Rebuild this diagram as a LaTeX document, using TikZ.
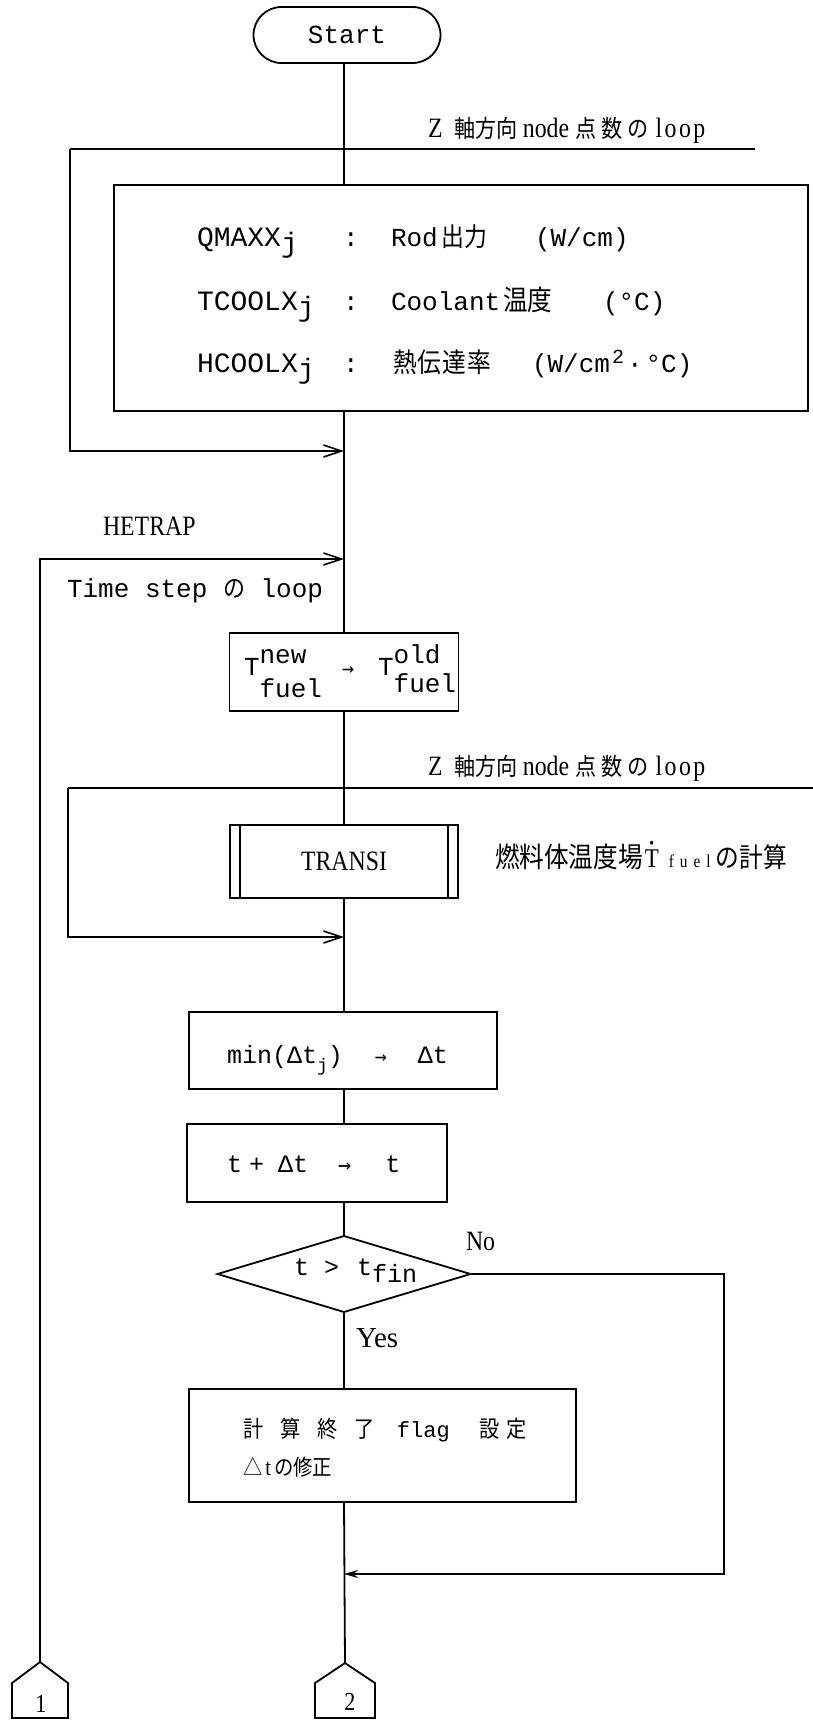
\documentclass[tikz,border=0pt]{standalone}
\usepackage{fontspec}
\setmainfont{Liberation Serif}
\newfontfamily\mono{Liberation Mono}
\newfontfamily\arr{DejaVu Sans Mono}
\newfontfamily\nserif[FakeStretch=0.85]{Liberation Serif}
\newfontfamily\cjk[FakeStretch=0.88]{Noto Sans CJK JP}
\usetikzlibrary{arrows.meta,shapes.geometric}
\newcommand{\fs}[1]{\fontsize{#1}{#1}\selectfont}
\newcommand{\zlabel}{\nserif\fs{28}Z\hspace{12pt}{\cjk\fs{24}軸方向}\hspace{5pt}node\hspace{6pt}{\cjk\fs{24}点\hspace{5pt}数\hspace{5pt}の}\hspace{7pt}l\hspace{2.5pt}o\hspace{2.5pt}o\hspace{2.5pt}p}
\begin{document}
\begin{tikzpicture}[x=1pt,y=-1pt,
  ln/.style={line width=1.8pt},
  boxst/.style={draw,line width=1.8pt,inner sep=0pt,outer sep=0pt},
  tx/.style={inner sep=0pt,outer sep=0pt,anchor=base west},
  barb/.style={-{Straight Barb[length=18pt,width=12pt,line width=1.6pt]}},
  fillarrow/.style={-{Stealth[length=14pt,width=8pt]}}]
\fill[white] (0,0) rectangle (813,1720);
\useasboundingbox (0,0) rectangle (813,1720);
\coordinate (m) at (344,0);
\coordinate (nr) at (724,0);

% start
\node[boxst, rounded corners=28pt, minimum width=187pt, minimum height=56pt] (start) at (347,35) {\mono\fs{26}Start};

% first loop
\node[tx] (zl1) at (428,138) {\zlabel};
\coordinate (l1a) at (70,149);
\coordinate (l1b) at (755,149);
\node[boxst, minimum width=694pt, minimum height=226pt] (inp) at (461,298) {};
\node[tx] (q1) at (197,247) {\mono\fs{28}QMAXX\raisebox{-6pt}{j}};
\node[anchor=base,inner sep=0pt] (c1c) at (351,247) {\mono\fs{26}:};
\node[tx] (q2) at (391,247) {\mono\fs{26}Rod\hspace{4pt}{\cjk\fs{26}出力}};
\node[tx] (q3) at (535,247) {\mono\fs{26}(W/cm)};
\node[tx] (t1) at (197,310) {\mono\fs{28}TCOOLX\raisebox{-6pt}{j}};
\node[anchor=base,inner sep=0pt] (c2c) at (351,310) {\mono\fs{26}:};
\node[tx] (t2) at (391,310) {\mono\fs{26}Coolant\hspace{3pt}{\cjk\fs{28}温度}};
\node[tx] (t3) at (603,310) {\mono\fs{26}(°C)};
\node[tx] (h1t) at (197,372) {\mono\fs{28}HCOOLX\raisebox{-6pt}{j}};
\node[anchor=base,inner sep=0pt] (c3c) at (351,372) {\mono\fs{26}:};
\node[tx] (h2t) at (393,372) {\cjk\fs{27}熱\hspace{1pt}伝\hspace{1pt}達\hspace{1pt}率};
\node[tx] (h3t) at (532,372) {\mono\fs{26}(W/cm\hspace{2pt}\raisebox{9pt}{\fs{20}2}\hspace{3pt}·\hspace{3pt}°C)};
\coordinate (l1c) at (70,451);
\coordinate (l1d) at (344,451);
\draw[ln] (l1a) -- (l1b);
\draw[ln,barb] (l1a) -- (l1c) -- (l1d);

% HETRAP / time loop
\node[tx] (het) at (103,535) {\nserif\fs{28}HETRAP};
\coordinate (h1) at (40,559);
\coordinate (h2) at (344,559);
\node[tx] (tsl) at (67,597) {\mono\fs{26}Time step {\cjk\fs{25}の} loop};
\node[boxst, minimum width=229pt, minimum height=78pt] (tb) at (344,672) {};
\node[tx] (tbt) at (244,675) {\mono\fs{26}T\rlap{\raisebox{12pt}{new}}\raisebox{-22pt}{fuel}\hspace{20pt}{\arr\fs{20}→}\hspace{24pt}T\rlap{\raisebox{12pt}{old}}\raisebox{-17pt}{fuel}};

% second loop
\node[tx] (zl2) at (428,775) {\zlabel};
\coordinate (l2a) at (68,788);
\coordinate (l2b) at (813,788);
\node[boxst, minimum width=228pt, minimum height=73pt] (tr) at (344,861.5) {\nserif\fs{28}TRANSI};
\draw[ln] ([xshift=10pt]tr.north west) -- ([xshift=10pt]tr.south west);
\draw[ln] ([xshift=-10pt]tr.north east) -- ([xshift=-10pt]tr.south east);
\node[tx] (trl) at (495,867) {{\cjk\fs{28}燃料体温度場}\hspace{2pt}\makebox[0pt][l]{\hspace{4.5pt}\raisebox{19pt}{\nserif\fs{16}•}}{\nserif\fs{27}T}\hspace{10pt}{\nserif\fs{18}f\hspace{6pt}u\hspace{6pt}e\hspace{6pt}l}\hspace{5pt}{\cjk\fs{27}の計算}};
\coordinate (l2c) at (68,937);
\coordinate (l2d) at (344,937);
\draw[ln] (l2a) -- (l2b);
\draw[ln,barb] (l2a) -- (l2c) -- (l2d);

% min / t boxes
\node[boxst, minimum width=308pt, minimum height=77pt] (mn) at (343,1050.5) {};
\node[tx] (mnt) at (227,1063) {\mono\fs{25}min(Δt\raisebox{-8pt}{\fs{18}j})\hspace{32pt}{\arr\fs{20}→}\hspace{31pt}Δt};
\node[boxst, minimum width=260pt, minimum height=78pt] (tt) at (317,1163) {};
\node[tx] (ttt) at (227,1172) {\mono\fs{25}t\hspace{7pt}+\hspace{14pt}Δt\hspace{30pt}{\arr\fs{22}→}\hspace{34pt}t};

% decision
\node[boxst, diamond, minimum width=253pt, minimum height=76pt] (dec) at (344,1274) {};
\node[tx] (dect) at (294,1275) {\mono\fs{25}t~>\hspace{18pt}t\raisebox{-7pt}{fin}};
\node[tx] (no) at (466,1250) {\nserif\fs{28}No};
\node[tx] (yes) at (356,1347) {\fs{29}Yes};

% final box
\node[boxst, minimum width=387pt, minimum height=113pt] (fin) at (382.5,1445.5) {};
\node[tx] (fin1) at (243,1437) {{\cjk\fs{23}計\hspace{17pt}算\hspace{17pt}終\hspace{17pt}了}\hspace{22pt}{\mono\fs{22}flag}\hspace{30pt}{\cjk\fs{23}設\hspace{6pt}定}};
\node[tx] (fin2) at (243,1475) {{\cjk\fs{22}△}\hspace{3pt}{\nserif\fs{24}t}\hspace{3pt}{\cjk\fs{22}の修正}};

\coordinate (n2) at (724,1574);
\coordinate (n3) at (344,1574);

% connectors
\coordinate (c1top) at (40,1662);
\coordinate (c2top) at (345,1663);
\draw[ln] (c1top) -- ++(28,21) -- ++(0,35) -- ++(-56,0) -- ++(0,-35) -- cycle;
\draw[ln] (c2top) -- ++(30,20) -- ++(0,35) -- ++(-60,0) -- ++(0,-35) -- cycle;
\node[inner sep=0pt] (c1) at (41,1704) {\nserif\fs{26}1};
\node[inner sep=0pt] (c2) at (350,1702) {\nserif\fs{26}2};

% main flow lines
\draw[ln] (start.south -| m) -- (inp.north -| m);
\draw[ln] (inp.south -| m) -- (tb.north -| m);
\draw[ln] (tb.south -| m) -- (tr.north -| m);
\draw[ln] (tr.south -| m) -- (mn.north -| m);
\draw[ln] (mn.south -| m) -- (tt.north -| m);
\draw[ln] (tt.south -| m) -- (dec.north);
\draw[ln] (dec.south) -- (fin.north -| m);
\draw[ln] (fin.south -| m) -- (c2top);
\draw[ln,barb] (c1top) -- (h1) -- (h2);
\draw[ln,fillarrow] (dec.east) -- (dec.east -| nr) -- (n2) -- (n3);
\end{tikzpicture}
\end{document}
